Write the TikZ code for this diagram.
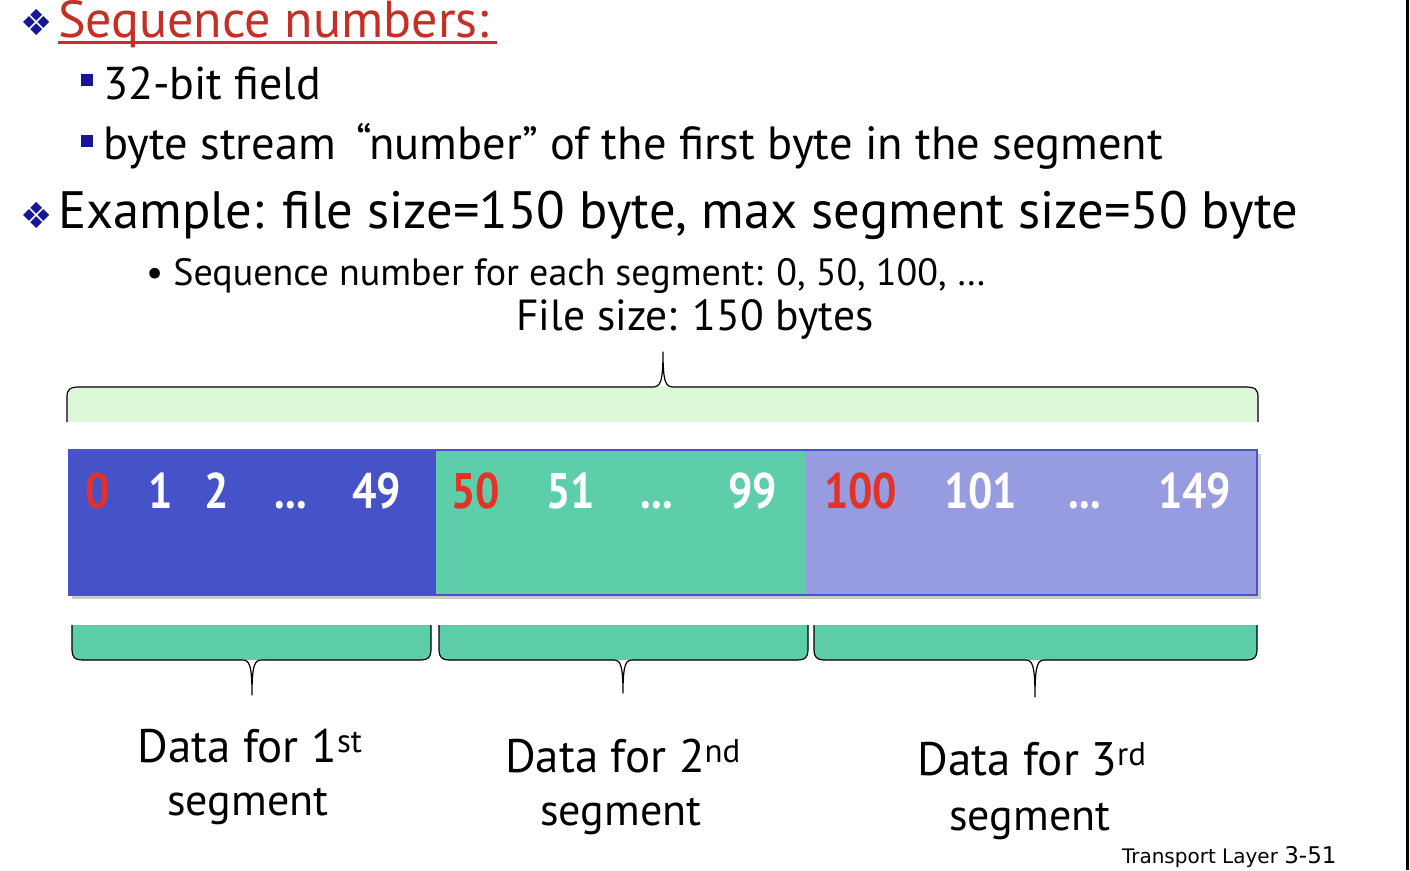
\documentclass[tikz,border=0pt]{standalone}
\usepackage{fontspec}
\usepackage{graphicx}
\setmainfont{PT Sans}
\newfontfamily\symfont{DejaVu Sans}
\newfontfamily\footfont{DejaVu Sans}

\definecolor{titlered}{RGB}{196,48,38}
\definecolor{bulletblue}{RGB}{22,22,150}
\definecolor{segA}{RGB}{70,83,200}
\definecolor{segB}{RGB}{94,206,170}
\definecolor{segC}{RGB}{151,156,224}
\definecolor{barline}{RGB}{72,82,210}
\definecolor{lightgreen}{RGB}{220,248,216}
\definecolor{numred}{RGB}{228,50,38}

\newcommand{\cond}[1]{\scalebox{0.86}[1]{#1}}

\tikzset{
  txt/.style={inner sep=0pt, outer sep=0pt, anchor=base west},
  ctxt/.style={inner sep=0pt, outer sep=0pt, anchor=base},
  num/.style={inner sep=0pt, outer sep=0pt, anchor=base west, text=white,
    font=\fontsize{50}{50}\selectfont\bfseries},
  rnum/.style={num, text=numred},
  seg/.style={draw=none, inner sep=0pt, outer sep=0pt, minimum height=145pt},
  brace/.style={draw=black, line width=1.2pt, line join=round},
  diam/.style={inner sep=0pt, text=bulletblue, font=\symfont\fontsize{36}{36}\selectfont},
  sqbullet/.style={fill=bulletblue, inner sep=0pt, minimum size=12pt},
  label/.style={ctxt, font=\fontsize{47}{47}\selectfont},
  label2/.style={ctxt, font=\fontsize{44}{44}\selectfont},
}

\begin{document}
\begin{tikzpicture}[x=1pt, y=-1pt]
  \useasboundingbox[fill=white] (0,0) rectangle (1410,870);
  \draw[line width=2.5pt] (1407.5,0) -- (1407.5,870);

  % heading and bullet list
  \node[diam] (d1) at (37,22) {❖};
  \node[txt, text=titlered, font=\fontsize{52}{52}\selectfont] (title) at (58,37) {Sequence numbers:};
  \draw[titlered, line width=3pt] (title.base west) ++(0,5.5) -- ++(439,0);
  \node[sqbullet] (b1) at (86.5,80) {};
  \node[txt, font=\fontsize{46}{46}\selectfont] (l1) at (103,99) {32-bit field};
  \node[sqbullet] (b2) at (86.5,141) {};
  \node[txt, font=\fontsize{46.5}{46.5}\selectfont] (l2) at (103,159) {byte stream \,“number” of the first byte in the segment};
  \node[diam] (d2) at (37,215) {❖};
  \node[txt, font=\fontsize{52.6}{52.6}\selectfont] (ex) at (58,228) {Example: file size=150 byte, max segment size=50 byte};
  \node[txt, font=\fontsize{38}{38}\selectfont] (sub) at (146,285) {• Sequence number for each segment: 0, 50, 100, …};
  \node[ctxt, font=\fontsize{43.5}{43.5}\selectfont] (fs) at (695,330) {File size: 150 bytes};

  % brace over the whole file
  \fill[lightgreen] (67,422) -- (67,397) .. controls (67,389) and (70,387) .. (80,387)
     -- (1245,387) .. controls (1255,387) and (1258,389) .. (1258,397) -- (1258,422) -- cycle;
  \draw[brace] (67,422) -- (67,397) .. controls (67,389) and (70,387) .. (80,387)
     -- (652,387) .. controls (660,387) and (663,384) .. (663,352)
     .. controls (663,384) and (666,387) .. (674,387)
     -- (1245,387) .. controls (1255,387) and (1258,389) .. (1258,397) -- (1258,422);

  % the byte stream, split into three segments
  \fill[black!45, opacity=0.45] (72,454) rectangle (1261,599);
  \node[seg, fill=segA, minimum width=367pt, anchor=north west] (s1) at (69,450) {};
  \node[seg, fill=segB, minimum width=370pt, anchor=north west] (s2) at (436,450) {};
  \node[seg, fill=segC, minimum width=451pt, anchor=north west] (s3) at (806,450) {};
  \draw[barline, line width=1.5pt] (s1.north west) rectangle (s3.south east);

  \node[rnum] (n0) at (85,508) {\cond{0}};
  \node[num] (n1) at (148,508) {\cond{1}};
  \node[num] (n2) at (204,508) {\cond{2}};
  \node[num] (n3) at (274,508) {\cond{...}};
  \node[num] (n49) at (352,508) {\cond{49}};
  \node[rnum] (n50) at (451,508) {\cond{50}};
  \node[num] (n51) at (546,508) {\cond{51}};
  \node[num] (n52) at (640,508) {\cond{...}};
  \node[num] (n99) at (728,508) {\cond{99}};
  \node[rnum] (n100) at (824,508) {\cond{100}};
  \node[num] (n101) at (944,508) {\cond{101}};
  \node[num] (n102) at (1068,508) {\cond{...}};
  \node[num] (n149) at (1158,508) {\cond{149}};

  % braces under the three segments
  \foreach \a/\b/\m/\t in {72/431/252/695, 439/808/623/693, 814/1257/1035/697}{
    \fill[segB] (\a,625) -- (\a,650) .. controls (\a,657) and (\a+3,660) .. (\a+10,660)
       -- (\b-10,660) .. controls (\b-3,660) and (\b,657) .. (\b,650) -- (\b,625) -- cycle;
    \draw[brace] (\a,625) -- (\a,650) .. controls (\a,657) and (\a+3,660) .. (\a+10,660)
       -- (\m-10,660) .. controls (\m-3,660) and (\m,663) .. (\m,\t)
       .. controls (\m,663) and (\m+3,660) .. (\m+10,660)
       -- (\b-10,660) .. controls (\b-3,660) and (\b,657) .. (\b,650) -- (\b,625);
  }

  \node[label] (t1a) at (250,762) {Data for 1\textsuperscript{st}};
  \node[label2] (t1b) at (248,815) {segment};
  \node[label] (t2a) at (623,772) {Data for 2\textsuperscript{nd}};
  \node[label2] (t2b) at (621,825) {segment};
  \node[label] (t3a) at (1032,775) {Data for 3\textsuperscript{rd}};
  \node[label2] (t3b) at (1030,830) {segment};

  \node[txt, font=\footfont\fontsize{20}{20}\selectfont] (foot) at (1122,863) {Transport Layer \fontsize{23}{23}\selectfont 3-51};
\end{tikzpicture}
\end{document}
